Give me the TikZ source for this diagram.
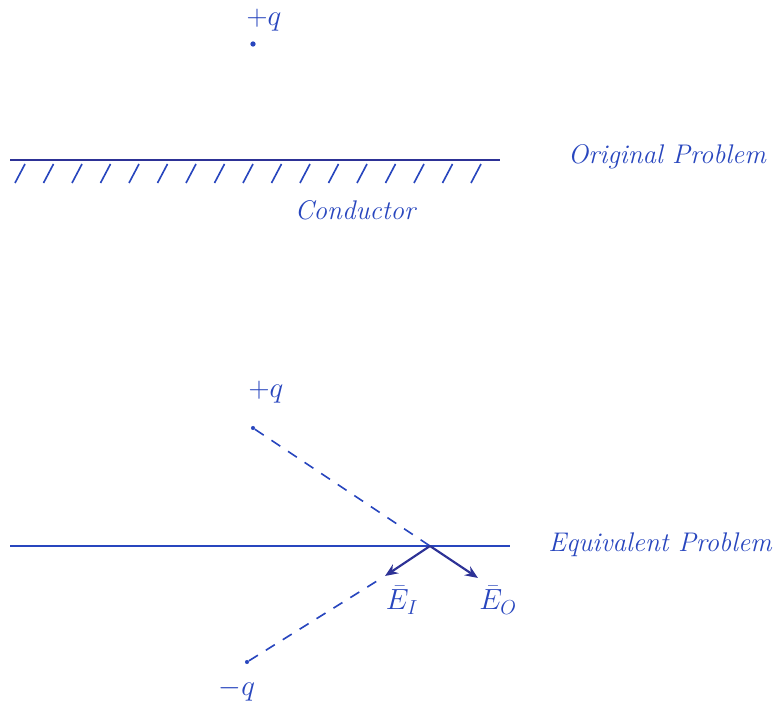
\documentclass[tikz,border=0pt]{standalone}
\usepackage{tikz}
\usetikzlibrary{arrows.meta,positioning,calc}
\definecolor{ink}{RGB}{40,70,190}
\definecolor{darkink}{RGB}{45,50,150}

\begin{document}
\begin{tikzpicture}[x=0.03cm,y=-0.03cm,font=\fontsize{23}{27}\selectfont\itshape,
  hand/.style={ink,line width=1.4pt},
  dashline/.style={ink,line width=1.4pt,dash pattern=on 9pt off 8pt},
  vec/.style={darkink,line width=1.8pt,-{Stealth[length=11pt,width=9pt]}},
  lbl/.style={text=ink,inner sep=1pt},
  charge/.style={circle,fill=ink,inner sep=0pt,minimum size=4.5pt}]
\useasboundingbox (0,0) rectangle (783,712);
% original problem
\node[charge] (qtop) at (253,44) {};
\node[lbl] (qtoplbl) at (264,20) {$+q$};
\coordinate (condL) at (10,160);
\coordinate (condR) at (500,160);
\draw[darkink,line width=2.2pt] (condL) -- (condR);
\foreach \i in {0,...,16}
  \draw[hand] (15+28.5*\i,183) -- ++(10,-19);
\node[lbl] (condlbl) at (355,210) {Conductor};
\node[lbl] (origlbl) at (667,157) {Original Problem};
% equivalent problem
\node[charge,minimum size=3.5pt] (qp) at (253,428) {};
\node[lbl] (qplbl) at (266,392) {$+q$};
\coordinate (eqL) at (10,546);
\coordinate (eqR) at (510,546);
\draw[hand,line width=1.8pt] (eqL) -- (eqR);
\coordinate (P) at (430,546);
\coordinate (EI) at (385,576);
\coordinate (EO) at (478,578);
\draw[dashline] (qp) -- (P);
\node[charge,minimum size=3.5pt] (qm) at (247,662) {};
\node[lbl] (qmlbl) at (237,690) {$-q$};
\draw[dashline] (qm) -- ($(EI)!6pt!(qm)$);
\draw[vec] (P) -- (EI);
\draw[vec] (P) -- (EO);
\node[lbl] (EIlbl) at (402,600) {$\bar{E}_I$};
\node[lbl] (EOlbl) at (498,600) {$\bar{E}_O$};
\node[lbl] (eqlbl) at (660,545) {Equivalent Problem};
\end{tikzpicture}
\end{document}
